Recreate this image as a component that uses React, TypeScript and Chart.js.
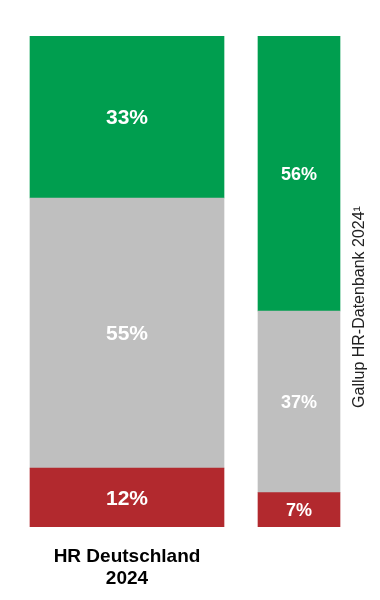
import React, { useEffect, useRef } from "react";
import { Chart, registerables } from "chart.js";

Chart.register(...registerables);

const categories = ["HR Deutschland 2024", "Gallup HR-Datenbank 2024¹"];
const bottomLabel = ["HR Deutschland", "2024"];
const sideLabel = "Gallup HR-Datenbank 2024¹";
const segmentNames = ["Rot", "Grau", "Grün"];
const redValues = [12, 7];
const grayValues = [55, 37];
const greenValues = [33, 56];

const COLORS = ["#B2292E", "#BFBFBF", "#009E4F"];
const WIDTHS = [194, 82];
const LABEL_SIZES = [21, 18];
const FONT = "'Liberation Sans', Arial, sans-serif";

export default function App() {
  const ref = useRef<HTMLCanvasElement | null>(null);

  useEffect(() => {
    if (!ref.current) return;
    const series = [redValues, grayValues, greenValues];
    const datasets: any[] = [];
    categories.forEach((cat, i) => {
      series.forEach((vals, s) => {
        datasets.push({
          label: `${cat} ${segmentNames[s]}`,
          data: [{ x: i, y: vals[i] }],
          backgroundColor: COLORS[s],
          borderWidth: 0,
          barThickness: WIDTHS[i],
          catIndex: i,
        });
      });
    });

    const labelPlugin = {
      id: "segLabels",
      afterDatasetsDraw(chart: any) {
        const ctx = chart.ctx;
        ctx.save();
        chart.data.datasets.forEach((ds: any, di: number) => {
          const meta = chart.getDatasetMeta(di);
          const el = meta.data[0];
          if (!el) return;
          const v = ds.data[0].y;
          const cy = (el.y + el.base) / 2 + 1.5;
          ctx.fillStyle = "#FFFFFF";
          ctx.font = `bold ${LABEL_SIZES[ds.catIndex]}px ${FONT}`;
          ctx.textAlign = "center";
          ctx.textBaseline = "middle";
          ctx.fillText(`${v}%`, el.x, cy);
        });
        ctx.translate(352, 299);
        ctx.rotate(-Math.PI / 2);
        ctx.fillStyle = "#222222";
        ctx.font = `16px ${FONT}`;
        ctx.textAlign = "center";
        ctx.textBaseline = "middle";
        ctx.fillText(sideLabel, 0, 0);
        ctx.restore();
      },
    };

    const chart = new Chart(ref.current, {
      type: "bar",
      data: { datasets },
      plugins: [labelPlugin],
      options: {
        animation: false,
        responsive: true,
        maintainAspectRatio: false,
        layout: { padding: { top: 28, left: 0, right: 0, bottom: 0 } },
        plugins: { legend: { display: false }, tooltip: { enabled: false } },
        scales: {
          x: {
            type: "linear",
            stacked: true,
            offset: false,
            min: -119 / 172,
            max: (364 - 119) / 172,
            grid: { display: false, drawTicks: false, offset: false },
            border: { display: false },
            afterBuildTicks: (scale: any) => {
              scale.ticks = [{ value: 0 }];
            },
            afterFit: (scale: any) => {
              scale.height = 73;
            },
            ticks: {
              padding: 18,
              maxRotation: 0,
              autoSkip: false,
              color: "#000000",
              font: { family: FONT, size: 19, weight: "bold", lineHeight: 1.2 },
              callback: (v: any) => (v === 0 ? bottomLabel : ""),
            },
          },
          y: {
            stacked: true,
            min: 0,
            max: 100,
            display: false,
          },
        },
      } as any,
    });
    return () => chart.destroy();
  }, []);

  return (
    <div style={{ position: "relative", width: 364, height: 592 }}>
      <canvas ref={ref} />
    </div>
  );
}
